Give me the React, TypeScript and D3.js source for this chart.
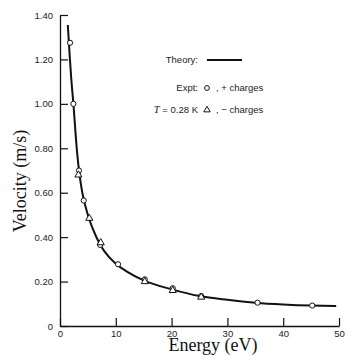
import * as d3 from "d3";
import { useEffect, useRef } from "react";

// theory curve
const theoryEnergy = [1.4, 1.7, 2, 2.4, 3, 3.5, 4, 5, 6, 7, 8, 10, 12, 15, 20, 25, 30, 35, 40, 45, 49.5];
const theoryVelocity = [1.355, 1.23, 1.12, 1.0, 0.8, 0.68, 0.6, 0.5, 0.43, 0.375, 0.335, 0.28, 0.245, 0.205, 0.165, 0.135, 0.118, 0.105, 0.097, 0.092, 0.09];

// expt, + charges (circles)
const plusEnergy = [1.8, 2.4, 3.4, 4.25, 7.2, 10.4, 15.2, 20.2, 25.3, 35.4, 45.2];
const plusVelocity = [1.275, 1.0, 0.7, 0.565, 0.365, 0.278, 0.21, 0.17, 0.135, 0.105, 0.092];

// expt, - charges (triangles)
const minusEnergy = [3.3, 5.25, 7.3, 15.2, 20.2, 25.3];
const minusVelocity = [0.68, 0.485, 0.375, 0.2, 0.16, 0.13];

const yTicks = [0, 0.2, 0.4, 0.6, 0.8, 1.0, 1.2, 1.4];
const xTicks = [0, 10, 20, 30, 40, 50];

function App() {
  const ref = useRef<SVGSVGElement>(null);
  const width = 362;
  const height = 355;

  useEffect(() => {
    const svg = d3.select(ref.current);
    svg.selectAll("*").remove();

    const x = d3.scaleLinear().domain([0, 50]).range([60, 339]);
    const y = d3.scaleLinear().domain([0, 1.4]).range([326, 15]);
    const sans = "'Liberation Sans', Arial, sans-serif";
    const serif = "'Liberation Serif', 'Times New Roman', serif";

    svg.append("rect").attr("width", width).attr("height", height).attr("fill", "#fff");

    const yAxis = svg
      .append("g")
      .attr("transform", `translate(${x(0)},0)`)
      .call(
        d3
          .axisLeft(y)
          .tickValues(yTicks)
          .tickSize(-8)
          .tickSizeOuter(0)
          .tickPadding(7)
          .tickFormat((d) => (d === 0 ? "0" : d3.format(".2f")(d as number)))
      );
    yAxis.select(".domain").attr("stroke", "#111").attr("stroke-width", 1.3);
    yAxis.selectAll("line").attr("stroke", "#111").attr("stroke-width", 1.2);
    yAxis.selectAll("text").attr("font-family", sans).attr("font-size", 9.5).attr("fill", "#222");

    const xAxis = svg
      .append("g")
      .attr("transform", `translate(0,${y(0)})`)
      .call(d3.axisBottom(x).tickValues(xTicks).tickSize(-8).tickSizeOuter(0).tickPadding(4));
    xAxis.select(".domain").attr("stroke", "#111").attr("stroke-width", 1.3);
    xAxis.selectAll("line").attr("stroke", "#111").attr("stroke-width", 1.2);
    xAxis.selectAll("text").attr("font-family", sans).attr("font-size", 9.5).attr("fill", "#222");

    svg
      .append("text")
      .attr("x", 213)
      .attr("y", 351)
      .attr("text-anchor", "middle")
      .attr("font-family", serif)
      .attr("font-size", 18)
      .attr("fill", "#111")
      .text("Energy (eV)");

    svg
      .append("text")
      .attr("transform", "translate(26,181) rotate(-90)")
      .attr("text-anchor", "middle")
      .attr("font-family", serif)
      .attr("font-size", 18)
      .attr("fill", "#111")
      .text("Velocity (m/s)");

    const theory = theoryEnergy.map((e, i) => [e, theoryVelocity[i]] as [number, number]);
    const line = d3
      .line<[number, number]>()
      .x((d) => x(d[0]))
      .y((d) => y(d[1]))
      .curve(d3.curveMonotoneX);
    svg
      .append("path")
      .attr("d", line(theory))
      .attr("fill", "none")
      .attr("stroke", "#111")
      .attr("stroke-width", 2);

    svg
      .selectAll(".circ")
      .data(plusEnergy.map((e, i) => [e, plusVelocity[i]]))
      .join("circle")
      .attr("cx", (d) => x(d[0]))
      .attr("cy", (d) => y(d[1]))
      .attr("r", 2.6)
      .attr("fill", "#fff")
      .attr("stroke", "#111")
      .attr("stroke-width", 1);

    const tri = d3.symbol(d3.symbolTriangle, 22);
    svg
      .selectAll(".tri")
      .data(minusEnergy.map((e, i) => [e, minusVelocity[i]]))
      .join("path")
      .attr("d", tri)
      .attr("transform", (d) => `translate(${x(d[0])},${y(d[1])})`)
      .attr("fill", "#fff")
      .attr("stroke", "#111")
      .attr("stroke-width", 1);

    // legend
    const lg = svg.append("g").attr("font-family", sans).attr("font-size", 9.5).attr("fill", "#222");
    lg.append("text").attr("x", 198).attr("y", 63).attr("text-anchor", "end").text("Theory:");
    lg.append("line")
      .attr("x1", 207).attr("x2", 242).attr("y1", 60).attr("y2", 60)
      .attr("stroke", "#111").attr("stroke-width", 2);
    lg.append("text").attr("x", 198).attr("y", 91).attr("text-anchor", "end").text("Expt:");
    lg.append("circle")
      .attr("cx", 207).attr("cy", 88).attr("r", 2.4)
      .attr("fill", "#fff").attr("stroke", "#111").attr("stroke-width", 1);
    lg.append("text").attr("x", 216).attr("y", 91).text(", + charges");
    const tLabel = lg.append("text").attr("x", 198).attr("y", 113).attr("text-anchor", "end");
    tLabel.append("tspan").attr("font-family", serif).attr("font-style", "italic").attr("font-size", 10.5).text("T");
    tLabel.append("tspan").text(" = 0.28 K");
    lg.append("path")
      .attr("d", d3.symbol(d3.symbolTriangle, 18)())
      .attr("transform", "translate(207,110)")
      .attr("fill", "#fff").attr("stroke", "#111").attr("stroke-width", 1);
    lg.append("text").attr("x", 216).attr("y", 113).text(", \u2212 charges");
  }, []);

  return (
    <div style={{ position: "absolute", left: 0, top: 0 }}>
      <svg ref={ref} width={width} height={height} style={{ display: "block" }} />
    </div>
  );
}

export default App;
